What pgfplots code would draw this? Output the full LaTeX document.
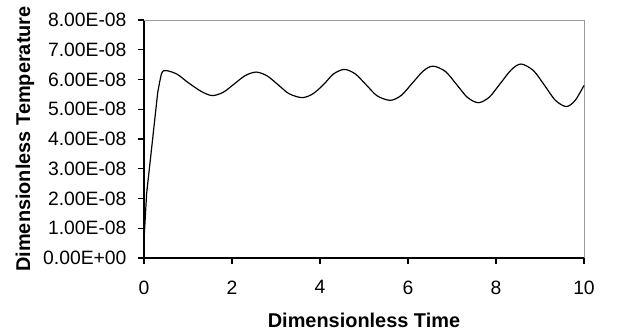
\documentclass[border=0pt]{standalone}
\usepackage{fontspec}
\setmainfont{Liberation Sans}
\usepackage{pgfplots}
\pgfplotsset{compat=1.18}
\begin{document}
\begin{tikzpicture}
\begin{axis}[
  at={(0,0)}, anchor=south west,
  scale only axis, width=440bp, height=238bp,
  xmin=0, xmax=10, ymin=0, ymax=8e-8,
  axis x line*=bottom, axis y line*=left,
  axis line style={black, line width=1.1pt},
  tick align=outside, major tick length=6bp,
  tick style={black, line width=1.1pt},
  xtick={0,2,4,6,8,10}, xticklabels={0,2,4,6,8,10},
  ytick={0,1e-8,2e-8,3e-8,4e-8,5e-8,6e-8,7e-8,8e-8},
  yticklabels={0.00E+00,1.00E-08,2.00E-08,3.00E-08,4.00E-08,5.00E-08,6.00E-08,7.00E-08,8.00E-08},
  tick label style={font=\fontsize{19.4}{22}\selectfont},
  xticklabel style={yshift=-13bp},
  yticklabel style={xshift=-8bp},
  scaled y ticks=false,
  xlabel={Dimensionless Time},
  ylabel={Dimensionless Temperature},
  every axis x label/.style={at={(axis description cs:0.5,0)}, anchor=base, yshift=-69bp, font=\fontsize{20}{22}\selectfont\bfseries},
  every axis y label/.style={at={(axis description cs:0,0.5)}, xshift=-119bp, rotate=90, anchor=center, font=\fontsize{20}{22}\selectfont\bfseries},
  clip=false,
]
\draw[gray!80, line width=1pt] (rel axis cs:0,1) -- (rel axis cs:1,1) -- (rel axis cs:1,0);
\addplot[black, line width=1.2pt, mark=none] coordinates {
(0,0.60e-8) (0.06,2.17e-8) (0.2,4.05e-8) (0.31,5.54e-8)
};
\addplot[black, line width=1.2pt, mark=none, smooth, tension=0.5] coordinates {
(0.31,5.54e-8) (0.4,6.20e-8) (0.5,6.30e-8) (0.75,6.18e-8) (1.0,5.90e-8)
(1.3,5.60e-8) (1.55,5.46e-8) (1.8,5.57e-8) (2.05,5.85e-8) (2.3,6.13e-8)
(2.55,6.25e-8) (2.8,6.12e-8) (3.05,5.82e-8) (3.3,5.52e-8) (3.6,5.39e-8)
(3.85,5.53e-8) (4.1,5.86e-8) (4.3,6.18e-8) (4.55,6.34e-8) (4.8,6.19e-8)
(5.05,5.82e-8) (5.3,5.45e-8) (5.6,5.30e-8) (5.85,5.47e-8) (6.1,5.88e-8)
(6.35,6.29e-8) (6.57,6.45e-8) (6.85,6.27e-8) (7.1,5.84e-8) (7.35,5.40e-8)
(7.6,5.22e-8) (7.85,5.41e-8) (8.1,5.87e-8) (8.35,6.33e-8) (8.57,6.52e-8)
(8.85,6.30e-8) (9.1,5.81e-8) (9.35,5.30e-8) (9.6,5.09e-8) (9.8,5.30e-8)
(10,5.80e-8)
};
\end{axis}
\pgfresetboundingbox
\path[use as bounding box] (-144bp,-77bp) rectangle (478bp,258bp);
\end{tikzpicture}
\end{document}
